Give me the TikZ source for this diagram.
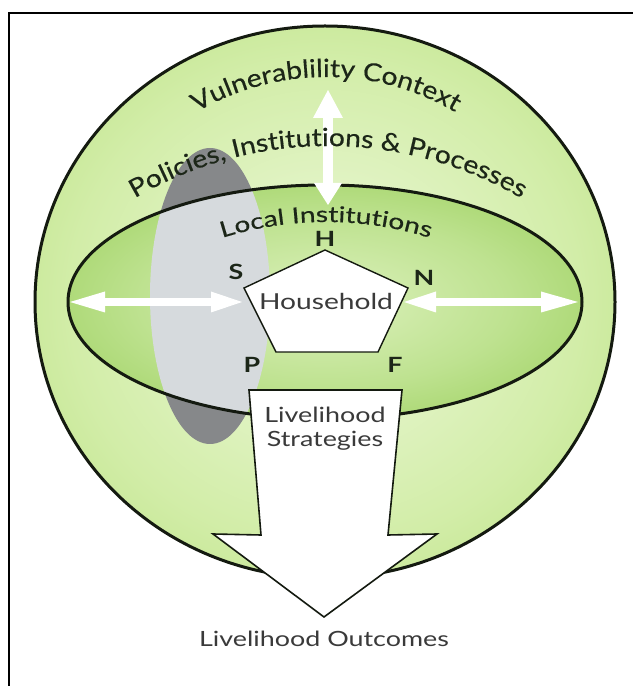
\documentclass[tikz,border=0pt]{standalone}
\usepackage{fontspec}
\setmainfont{Lato}[FakeStretch=1.28]
\newfontfamily\curvefam{Lato}[FakeStretch=1.13,FakeBold=0.4]
\newfontfamily\localfam{Lato}[FakeStretch=1.28,FakeBold=0.4]
\usetikzlibrary{decorations.text,arrows.meta,calc}
\definecolor{txt}{HTML}{1C2618}
\definecolor{txtgray}{HTML}{3A3A3A}
\definecolor{ringline}{HTML}{141A10}
\definecolor{oc1}{HTML}{EEF9DC}
\definecolor{oc2}{HTML}{D2EDA8}
\definecolor{oc3}{HTML}{B0DC72}
\definecolor{oc4}{HTML}{8CC646}
\definecolor{ic1}{HTML}{DCF1BC}
\definecolor{ic2}{HTML}{BEE290}
\definecolor{ic3}{HTML}{93CB50}
\definecolor{ic4}{HTML}{6DAC2E}
\definecolor{grayout}{HTML}{86888A}
\definecolor{grayin}{HTML}{D6DADD}
\pgfdeclareradialshading{outerg}{\pgfpoint{0bp}{0bp}}{color(0bp)=(oc1); color(22bp)=(oc2); color(40bp)=(oc3); color(50bp)=(oc4)}
\pgfdeclareradialshading{innerg}{\pgfpoint{0bp}{0bp}}{color(0bp)=(ic1); color(18bp)=(ic2); color(38bp)=(ic3); color(50bp)=(ic4)}
\newcommand\curvefont{\curvefam\fontsize{25}{28}\selectfont\color{txt}}
\newcommand\localfont{\localfam\fontsize{22}{25}\selectfont\color{txt}}
\begin{document}
\begin{tikzpicture}[x=1pt,y=1pt,
  outline/.style={draw=ringline,line width=3pt},
  pent/.style={draw=ringline,fill=white,line width=1.4pt,line join=miter},
  bigarrow/.style={draw=ringline,fill=white,line width=1.6pt,line join=miter},
  hh/.style={font=\fontsize{22}{24}\selectfont,text=txtgray,inner sep=0pt},
  lbl/.style={font=\fontsize{21}{24}\selectfont\bfseries,text=txt,inner sep=0pt},
  ltext/.style={font=\fontsize{21}{24}\selectfont,text=txtgray,inner sep=0pt}]
\useasboundingbox (0,0) rectangle (633,686);
% frame
\draw[line width=1.5pt] (9,0) -- (9,673) -- (633,673);
% outer sphere
\coordinate (cc) at (325,384);
\shade[shading=outerg] (cc) ellipse [x radius=290, y radius=276];
% grey ellipse (outside part)
\coordinate (gc) at (210,390);
\fill[grayout] (gc) ellipse [x radius=60, y radius=148];
% inner ellipse
\shade[shading=innerg] (cc) ellipse [x radius=257, y radius=117];
\begin{scope}
  \clip (cc) ellipse [x radius=257, y radius=117];
  \fill[grayin] (gc) ellipse [x radius=60, y radius=148];
\end{scope}
\draw[outline] (cc) ellipse [x radius=290, y radius=276];
\draw[outline] (cc) ellipse [x radius=257, y radius=117];
% vertical double arrow
\coordinate (vb) at (328,481);
\coordinate (vt) at (328,596);
\draw[draw=white, line width=10pt,
  {Triangle[length=22pt,width=28pt,line width=0pt]}-{Triangle[length=28pt,width=30pt,line width=0pt]}]
  (vb) -- (vt);
% horizontal double arrows
\coordinate (hl1) at (70,384);
\coordinate (hl2) at (242,384);
\coordinate (hr1) at (404,384);
\coordinate (hr2) at (578,384);
\draw[draw=white, line width=7.5pt,
  {Triangle[length=35pt,width=21pt,line width=0pt]}-{Triangle[length=31pt,width=21pt,line width=0pt]}]
  (hl1) -- (hl2);
\draw[draw=white, line width=7.5pt,
  {Triangle[length=32pt,width=21pt,line width=0pt]}-{Triangle[length=37pt,width=21pt,line width=0pt]}]
  (hr1) -- (hr2);
% pentagon
\coordinate (pH) at (325,436);
\coordinate (pN) at (408,398);
\coordinate (pF) at (378,334);
\coordinate (pP) at (276,334);
\coordinate (pS) at (244,398);
\draw[pent] (pH) -- (pN) -- (pF) -- (pP) -- (pS) -- cycle;
\node[hh] (house) at (326,385) {Household};
% capital letters
\node[lbl] (H) at (325,447) {H};
\node[lbl] (S) at (236,414) {S};
\node[lbl] (N) at (424,408) {N};
\node[lbl] (P) at (252,321) {P};
\node[lbl] (F) at (395,321) {F};
% big arrow
\coordinate (a1) at (249,296);
\coordinate (a2) at (402,296);
\coordinate (a3) at (388,151);
\coordinate (a4) at (437,152);
\coordinate (a5) at (324,69);
\coordinate (a6) at (213,152);
\coordinate (a7) at (261,151);
\draw[bigarrow] (a1) -- (a2) -- (a3) -- (a4) -- (a5) -- (a6) -- (a7) -- cycle;
\node[ltext, align=center] (ls) at (325,257) {Livelihood\\Strategies};
\node[ltext, anchor=base] (lo) at (324,39) {Livelihood Outcomes};
% curved labels
\coordinate (vcen) at (326,354);
\coordinate (pcen) at (328,157);
\coordinate (lcen) at (326,118);
\path[decorate, decoration={text along path, text align=center,
  text={|\curvefont|Vulnerablility Context}}]
  ($(vcen)+(150:255)$) arc[start angle=150, end angle=30, radius=255];
\path[decorate, decoration={text along path, text align=center,
  text={|\curvefont|Policies, Institutions {\&} Processes}}]
  ($(pcen)+(130:383)$) arc[start angle=130, end angle=50, radius=383];
\path[decorate, decoration={text along path, text align=center,
  text={|\localfont|Local Institutions}}]
  ($(lcen)+(122:346)$) arc[start angle=122, end angle=58, radius=346];
\end{tikzpicture}
\end{document}
